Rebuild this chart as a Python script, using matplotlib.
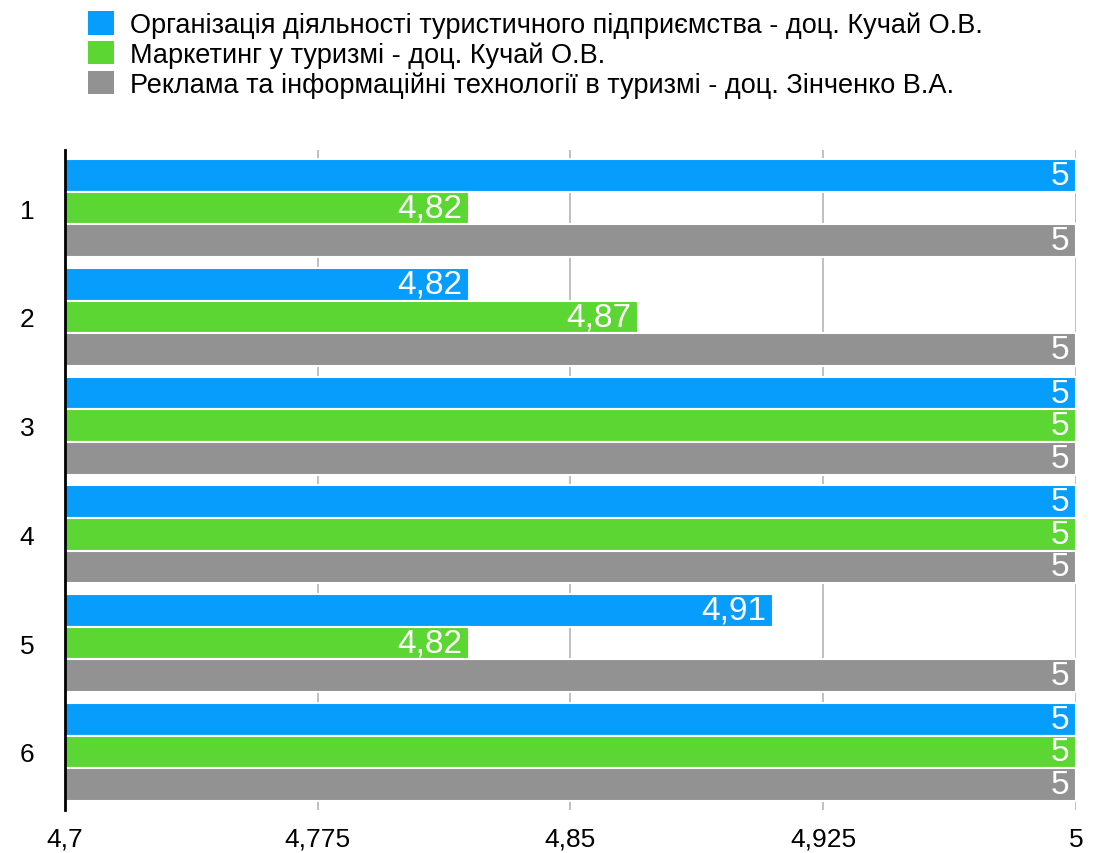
import numpy as np
import matplotlib.pyplot as plt
from matplotlib.patches import Patch

plt.rcParams['font.family'] = ['Liberation Sans', 'DejaVu Sans']

# === Data ===
groups = ['1', '2', '3', '4', '5', '6']
series_names = [
    'Організація діяльності туристичного підприємства - доц. Кучай О.В.',
    'Маркетинг у туризмі - доц. Кучай О.В.',
    'Реклама та інформаційні технології в туризмі - доц. Зінченко В.А.',
]
org_values = [5, 4.82, 5, 5, 4.91, 5]
mkt_values = [4.82, 4.87, 5, 5, 4.82, 5]
adv_values = [5, 5, 5, 5, 5, 5]
xticks = [4.7, 4.775, 4.85, 4.925, 5]
xtick_labels = ['4,7', '4,775', '4,85', '4,925', '5']

colors = ['#069dfc', '#5cd633', '#929292']
all_values = [org_values, mkt_values, adv_values]

fig = plt.figure(figsize=(11.01, 8.54), dpi=100)
ax = fig.add_axes([65 / 1101, 1 - 811 / 854, (1076 - 65) / 1101, (811 - 151) / 854])

x_min = 4.7
bar_h = 0.3
y_pos = np.arange(len(groups))
for i, (vals, col) in enumerate(zip(all_values, colors)):
    ys = y_pos + (i - 1) * bar_h
    bars = ax.barh(ys, np.array(vals) - x_min, left=x_min, height=bar_h,
                   color=col, edgecolor='white', linewidth=1.5, zorder=2)
    for b, v in zip(bars, vals):
        txt = ('%g' % v).replace('.', ',')
        ax.text(v - 0.002, b.get_y() + b.get_height() / 2, txt,
                ha='right', va='center', color='white', fontsize=24, zorder=3)

ax.set_xlim(4.7, 5.0)
ax.set_ylim(len(groups) - 0.5 + 0.035, -0.5 - 0.035)
ax.set_yticks(y_pos)
ax.set_yticklabels(groups, fontsize=19)
ax.set_xticks(xticks)
ax.set_xticklabels(xtick_labels, fontsize=19)
ax.tick_params(axis='both', length=0)
ax.tick_params(axis='x', pad=12)
ax.tick_params(axis='y', pad=22)
ax.grid(axis='x', color='#bbbbbb', linewidth=1.3, zorder=0)
ax.set_axisbelow(True)
for s in ['top', 'right', 'bottom']:
    ax.spines[s].set_visible(False)
ax.spines['left'].set_linewidth(2)
ax.spines['left'].set_color('black')
ax.spines['left'].set_zorder(4)

handles = [Patch(facecolor=c, edgecolor='none') for c in colors]
fig.legend(handles, series_names, loc='upper left', bbox_to_anchor=(76 / 1101, 1.0),
           frameon=False, fontsize=19.5, handlelength=0.95, handleheight=0.95,
           handletextpad=0.6, labelspacing=0.1, borderaxespad=0.05)

fig.savefig('out.png', dpi=100)
